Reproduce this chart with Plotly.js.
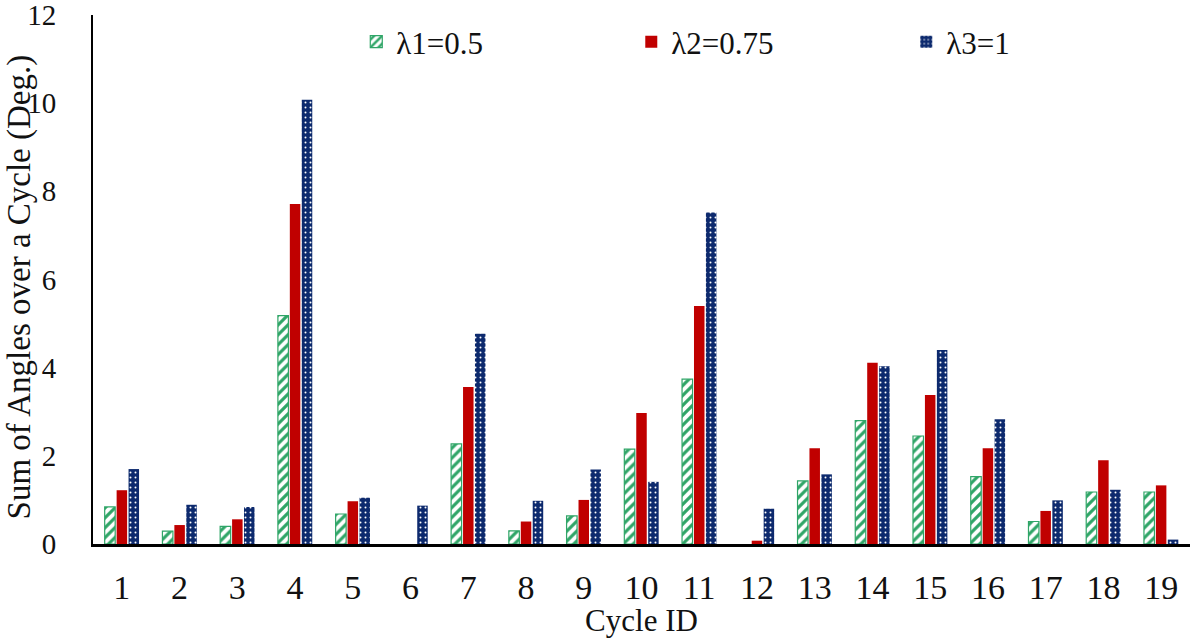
<!DOCTYPE html>
<html>
<head>
<meta charset="utf-8">
<script src="https://cdn.plot.ly/plotly-3.0.1.min.js"></script>
<style>
  html, body { margin: 0; padding: 0; background: #fff; }
  #plot { width: 1196px; height: 638px; }
</style>
</head>
<body>
<div id="plot"></div>
<script>
const cycles = ["1","2","3","4","5","6","7","8","9","10","11","12","13","14","15","16","17","18","19"];
// null = no bar visible in the reference
const lambda1 = [0.84, 0.29, 0.40, 5.18, 0.68, null, 2.27, 0.30, 0.64, 2.15, 3.74, null, 1.43, 2.80, 2.45, 1.53, 0.51, 1.18, 1.18];
const lambda2 = [1.22, 0.43, 0.56, 7.71, 0.97, null, 3.56, 0.51, 1.00, 2.97, 5.40, 0.075, 2.17, 4.11, 3.38, 2.17, 0.75, 1.90, 1.33];
const lambda3 = [1.70, 0.89, 0.84, 10.08, 1.05, 0.87, 4.77, 0.98, 1.69, 1.41, 7.52, 0.80, 1.58, 4.03, 4.40, 2.83, 0.99, 1.23, 0.10];
const seriesNames = ["λ1=0.5", "λ2=0.75", "λ3=1"];
const yTicks = [0, 2, 4, 6, 8, 10, 12];
const yTitle = "Sum of Angles over a Cycle (Deg.)";
const xTitle = "Cycle ID";

const green = "#2fa567";
const red = "#c00000";
const navy = "#0d2a6e";
const font = "Liberation Serif, DejaVu Serif, serif";

const traces = [
  {
    type: "bar",
    name: seriesNames[0],
    x: cycles,
    y: lambda1,
    marker: {
      color: "#ffffff",
      line: { color: green, width: 1.2 },
      pattern: { shape: "/", fgcolor: green, bgcolor: "#ffffff", size: 7, solidity: 0.45 }
    },
    hoverinfo: "skip"
  },
  {
    type: "bar",
    name: seriesNames[1],
    x: cycles,
    y: lambda2,
    marker: { color: red, line: { width: 0 } },
    hoverinfo: "skip"
  },
  {
    type: "bar",
    name: seriesNames[2],
    x: cycles,
    y: lambda3,
    marker: {
      color: navy,
      line: { width: 0 },
      pattern: { shape: ".", fgcolor: "#ffffff", bgcolor: navy, size: 5, solidity: 0.12 }
    },
    hoverinfo: "skip"
  }
];

const layout = {
  width: 1196,
  height: 638,
  margin: { l: 93, r: 6, t: 15, b: 94 },
  paper_bgcolor: "#ffffff",
  plot_bgcolor: "#ffffff",
  font: { family: font, color: "#111111" },
  barmode: "group",
  bargap: 0.38,
  bargroupgap: 0.12,
  showlegend: true,
  legend: {
    orientation: "h",
    x: 0.24,
    xanchor: "left",
    y: 1.0,
    yanchor: "top",
    font: { family: font, size: 31, color: "#111111" },
    entrywidth: 230,
    entrywidthmode: "pixels",
    bgcolor: "rgba(0,0,0,0)",
    traceorder: "normal"
  },
  xaxis: {
    type: "category",
    showline: true,
    linecolor: "#000000",
    linewidth: 2.5,
    ticks: "",
    ticklabelstandoff: 12,
    tickfont: { family: font, size: 34, color: "#111111" },
    showgrid: false,
    zeroline: false,
    title: { text: xTitle, font: { family: font, size: 31, color: "#111111" }, standoff: 0 }
  },
  yaxis: {
    range: [0, 12],
    autorange: false,
    tickvals: yTicks,
    ticktext: yTicks.map(String),
    ticklabeloverflow: "allow",
    showline: true,
    linecolor: "#000000",
    linewidth: 2,
    ticks: "",
    ticklabelstandoff: 29,
    tickfont: { family: font, size: 29, color: "#111111" },
    showgrid: false,
    zeroline: false,
    title: { text: "" }
  },
  annotations: [
    {
      text: yTitle,
      xref: "paper",
      yref: "paper",
      x: 0,
      xshift: -74,
      y: 0.485,
      xanchor: "center",
      yanchor: "middle",
      textangle: -90,
      showarrow: false,
      font: { family: font, size: 33, color: "#111111" }
    }
  ]
};

Plotly.newPlot("plot", traces, layout, { displayModeBar: false, staticPlot: true });
</script>
</body>
</html>
